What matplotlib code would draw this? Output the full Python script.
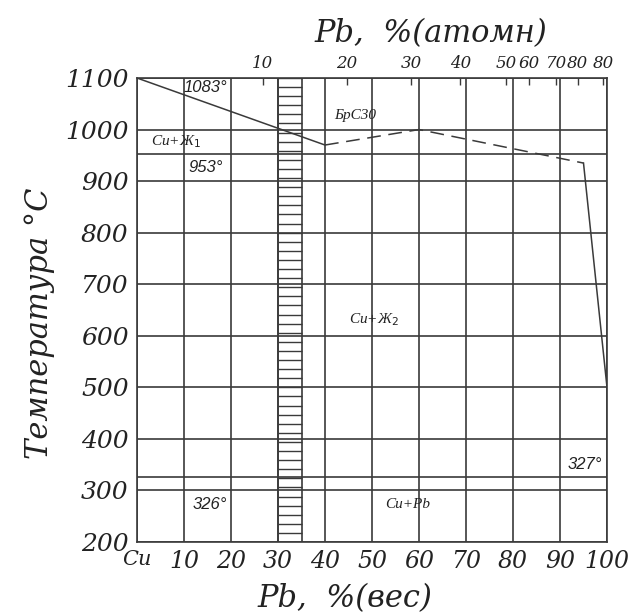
import numpy as np
import matplotlib
matplotlib.use("Agg")
import matplotlib.pyplot as plt

# ---- data ----
wt_ticks = [0, 10, 20, 30, 40, 50, 60, 70, 80, 90, 100]
wt_labels = ["Cu", "10", "20", "30", "40", "50", "60", "70", "80", "90", "100"]
temp_ticks = [200, 300, 400, 500, 600, 700, 800, 900, 1000, 1100]
extra_temps = [953, 327]
at_tick_pos = [26.8, 44.6, 58.4, 68.8, 78.6, 83.4, 89.2, 93.8, 99.2]
at_tick_labels = ["10", "20", "30", "40", "50", "60", "70", "80", "80"]

liq1_x = [0, 40]
liq1_y = [1100, 970]
liq_dash_x = [40, 60, 95]
liq_dash_y = [970, 1000, 935]
liq2_x = [95, 100]
liq2_y = [935, 500]

band = (30, 35)  # БрС30 region

labels = [
    (14.5, 1081, "1083°"),
    (8.3, 976, "Cu+Ж$_1$"),
    (14.7, 926, "953°"),
    (46.5, 1028, "БрС30"),
    (50.5, 632, "Cu+Ж$_2$"),
    (95.3, 350, "327°"),
    (15.5, 273, "326°"),
    (57.5, 273, "Cu+Pb"),
]

# ---- figure ----
fig = plt.figure(figsize=(6.38, 6.16), dpi=100)
ax = fig.add_axes([137/638, 1-542/616, 470/638, 464/616])
ax.set_xlim(0, 100)
ax.set_ylim(200, 1100)

gc = "#3a3a3a"
for x in wt_ticks:
    ax.axvline(x, color=gc, lw=1.2, zorder=1)
for t in temp_ticks + extra_temps:
    ax.axhline(t, color=gc, lw=1.2, zorder=1)

# hatched band
ax.axvline(band[0], color=gc, lw=1.2)
ax.axvline(band[1], color=gc, lw=1.2)
ax.hlines(np.linspace(200, 1100, 52), band[0], band[1], color=gc, lw=1.0)

# liquidus
ax.plot(liq1_x, liq1_y, color=gc, lw=1.1)
ax.plot(liq_dash_x, liq_dash_y, color=gc, lw=1.1, dashes=(9, 5))
ax.plot(liq2_x, liq2_y, color=gc, lw=1.1)

for s in ax.spines.values():
    s.set_color(gc)
    s.set_linewidth(1.2)

tickfont = dict(family="DejaVu Serif", style="italic")
ax.set_xticks(wt_ticks)
ax.set_xticklabels(wt_labels, fontsize=17, color="#222", **tickfont)
ax.set_yticks(temp_ticks)
ax.set_yticklabels([str(t) for t in temp_ticks], fontsize=18, color="#222", **tickfont)
ax.tick_params(axis="both", length=0, pad=6)
ax.get_xticklabels()[0].set_fontsize(15)

# top atomic axis
ax2 = ax.twiny()
ax2.set_xlim(0, 100)
ax2.set_xticks(at_tick_pos)
ax2.set_xticklabels(at_tick_labels, fontsize=12, color="#222", **tickfont)
ax2.tick_params(axis="x", direction="in", length=5, width=1.0, color=gc, pad=4)
for s in ax2.spines.values():
    s.set_visible(False)

fig.text(0.675, 0.945, "Pb,  %(атомн)", fontsize=22, ha="center", va="center",
         color="#222", **tickfont)
fig.text(0.54, 0.028, "Pb,  %(вес)", fontsize=22, ha="center", va="center",
         color="#222", **tickfont)
fig.text(0.062, 0.475, "Температура °C", fontsize=22, rotation=90, ha="center",
         va="center", color="#222", **tickfont)

for x, y, s in labels:
    fs = 11 if ("Cu" in s or "Бр" in s) else 12
    fam = "Liberation Serif" if ("Cu" in s or "Бр" in s) else "Liberation Sans"
    ax.text(x, y, s, fontsize=fs, family=fam, style="italic", color="#222",
            ha="center", va="center")

fig.savefig("out.png", dpi=100)
